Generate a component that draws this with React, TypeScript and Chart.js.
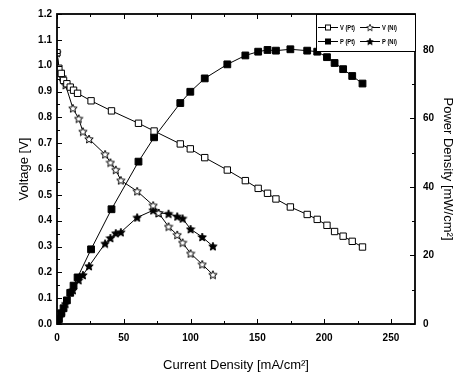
import { useEffect, useRef } from 'react';
import { Chart, registerables } from 'chart.js';

Chart.register(...registerables);

// Current density [mA/cm2] sample points
const xPt = [0, 1.4, 3.2, 4.9, 7.4, 9.9, 12.4, 15.4, 25.5, 40.8, 61, 72.7, 92.3, 99.8, 110.6, 127.5, 141, 150.6, 157.6, 163.9, 174.7, 187.3, 194.8, 202.1, 207.8, 214.2, 221, 228.7];
const vPt = [1.05, 0.99, 0.97, 0.943, 0.93, 0.917, 0.905, 0.893, 0.864, 0.825, 0.777, 0.747, 0.697, 0.678, 0.644, 0.596, 0.555, 0.525, 0.506, 0.484, 0.453, 0.424, 0.405, 0.382, 0.358, 0.34, 0.32, 0.298];
const pPt = [0, 1.4, 3.1, 4.6, 6.9, 9.1, 11.2, 13.6, 21.8, 33.5, 47.4, 54.5, 64.5, 67.8, 71.7, 75.8, 78.4, 79.5, 80.0, 79.8, 80.2, 79.8, 79.5, 77.9, 76.2, 74.4, 72.4, 70.2];

const xNi = [0, 1.9, 3.9, 6.4, 11.9, 16.2, 19.4, 24, 36, 40, 44, 47.8, 60, 72, 76, 83.5, 90, 94, 100, 108.7, 116.7];
const vNi = [1.05, 0.977, 0.956, 0.925, 0.835, 0.795, 0.745, 0.716, 0.657, 0.625, 0.597, 0.556, 0.514, 0.459, 0.43, 0.377, 0.345, 0.315, 0.273, 0.231, 0.191];
const pNi = [0, 1.9, 3.7, 5.9, 9.9, 12.8, 14.3, 16.9, 23.5, 25.1, 26.5, 26.8, 31.1, 33.2, 32.4, 32.2, 31.4, 30.8, 27.7, 25.4, 22.7];

const currentTicks = [0, 50, 100, 150, 200, 250];
const currentMinor = [25, 75, 125, 175, 225];
const voltageTicks = [0, 0.1, 0.2, 0.3, 0.4, 0.5, 0.6, 0.7, 0.8, 0.9, 1.0, 1.1, 1.2];
const voltageMinor = [0.05, 0.15, 0.25, 0.35, 0.45, 0.55, 0.65, 0.75, 0.85, 0.95, 1.05, 1.15];
const powerTicks = [0, 20, 40, 60, 80];
const powerMinor = [10, 30, 50, 70, 90];

const legendLabels = ['V (Pt)', 'V (Ni)', 'P (Pt)', 'P (Ni)'];

function makeStar(filled: boolean, size = 10) {
  const c = document.createElement('canvas');
  c.width = size;
  c.height = size;
  const ctx = c.getContext('2d')!;
  const cx = size / 2, cy = size / 2 + 0.4;
  const R = size / 2 - 0.6, r = R * 0.45;
  ctx.beginPath();
  for (let i = 0; i < 10; i++) {
    const a = -Math.PI / 2 + (i * Math.PI) / 5;
    const rad = i % 2 === 0 ? R : r;
    ctx.lineTo(cx + rad * Math.cos(a), cy + rad * Math.sin(a));
  }
  ctx.closePath();
  ctx.fillStyle = filled ? '#000' : '#fff';
  ctx.fill();
  ctx.lineWidth = 1;
  ctx.strokeStyle = '#000';
  ctx.stroke();
  return c;
}

const toPts = (xs: number[], ys: number[]) => xs.map((x, i) => ({ x, y: ys[i] }));

export default function App() {
  const ref = useRef<HTMLCanvasElement | null>(null);

  useEffect(() => {
    const canvas = ref.current!;
    const openStar = makeStar(false, 10);
    const fillStar = makeStar(true, 10);

    const framePlugin = {
      id: 'frameTicks',
      afterDatasetsDraw(chart: any) {
        const { ctx, chartArea: a, scales } = chart;
        ctx.save();
        ctx.strokeStyle = '#000';
        ctx.lineWidth = 1;
        const major = 5, minor = 3;
        ctx.beginPath();
        const xs = scales.x;
        currentTicks.forEach((v) => {
          const p = Math.round(xs.getPixelForValue(v)) + 0.5;
          ctx.moveTo(p, a.bottom); ctx.lineTo(p, a.bottom - major);
          ctx.moveTo(p, a.top); ctx.lineTo(p, a.top + major);
        });
        currentMinor.forEach((v) => {
          const p = Math.round(xs.getPixelForValue(v)) + 0.5;
          ctx.moveTo(p, a.bottom); ctx.lineTo(p, a.bottom - minor);
          ctx.moveTo(p, a.top); ctx.lineTo(p, a.top + minor);
        });
        const ys = scales.y;
        voltageTicks.forEach((v) => {
          const p = Math.round(ys.getPixelForValue(v)) + 0.5;
          ctx.moveTo(a.left, p); ctx.lineTo(a.left + major, p);
        });
        voltageMinor.forEach((v) => {
          const p = Math.round(ys.getPixelForValue(v)) + 0.5;
          ctx.moveTo(a.left, p); ctx.lineTo(a.left + minor, p);
        });
        const y1 = scales.y1;
        powerTicks.forEach((v) => {
          const p = Math.round(y1.getPixelForValue(v)) + 0.5;
          ctx.moveTo(a.right, p); ctx.lineTo(a.right - major, p);
        });
        powerMinor.forEach((v) => {
          const p = Math.round(y1.getPixelForValue(v)) + 0.5;
          ctx.moveTo(a.right, p); ctx.lineTo(a.right - minor, p);
        });
        ctx.stroke();
        ctx.lineWidth = 1.8;
        ctx.strokeRect(a.left, a.top, a.right - a.left, a.bottom - a.top);
        ctx.restore();
      },
      afterDraw(chart: any) {
        const { ctx, chartArea: a } = chart;
        ctx.save();
        const bx = 316, by = a.top, bw = a.right - 316, bh = 37;
        ctx.fillStyle = '#fff';
        ctx.fillRect(bx, by, bw, bh);
        ctx.strokeStyle = '#000';
        ctx.lineWidth = 1;
        ctx.strokeRect(bx + 0.5, by + 0.5, bw, bh);
        const rows = [by + 13, by + 27];
        const cols = [318, 360];
        ctx.font = 'bold 8px "Liberation Sans", Arial, sans-serif';
        ctx.textBaseline = 'middle';
        ctx.textAlign = 'left';
        chart.data.datasets.forEach((ds: any, i: number) => {
          const col = cols[[0, 1, 0, 1][i]];
          const row = rows[[0, 0, 1, 1][i]];
          ctx.strokeStyle = '#000';
          ctx.lineWidth = 1;
          ctx.beginPath();
          ctx.moveTo(col, row + 0.5);
          ctx.lineTo(col + 20, row + 0.5);
          ctx.stroke();
          const cx = col + 10;
          if (ds.pointStyle === 'rect') {
            const s = 5;
            ctx.fillStyle = ds.pointBackgroundColor;
            ctx.fillRect(cx - s / 2, row + 0.5 - s / 2, s, s);
            ctx.strokeRect(cx - s / 2, row + 0.5 - s / 2, s, s);
          } else {
            ctx.drawImage(ds.pointStyle, cx - 4, row - 3.5, 8, 8);
          }
          ctx.fillStyle = '#000';
          ctx.save();
          ctx.translate(col + 22, row + 1);
          ctx.scale(0.72, 1);
          ctx.fillText(legendLabels[i], 0, 0);
          ctx.restore();
        });
        ctx.restore();
      },
    };

    const tickFont = { family: '"Liberation Sans", Arial, sans-serif', size: 10, weight: 'bold' as const };
    const titleFont = { family: '"Liberation Sans", Arial, sans-serif', size: 13 };

    const chart = new Chart(canvas, {
      type: 'scatter',
      data: {
        datasets: [
          {
            label: legendLabels[0],
            data: toPts(xPt, vPt),
            yAxisID: 'y',
            showLine: true,
            borderColor: '#000',
            borderWidth: 1,
            pointStyle: 'rect',
            pointRadius: 4.5,
            pointBackgroundColor: '#fff',
            pointBorderColor: '#000',
            pointBorderWidth: 1,
          },
          {
            label: legendLabels[1],
            data: toPts(xNi, vNi),
            yAxisID: 'y',
            showLine: true,
            borderColor: '#000',
            borderWidth: 1,
            pointStyle: openStar as any,
            pointBackgroundColor: '#fff',
            pointBorderColor: '#000',
          },
          {
            label: legendLabels[2],
            data: toPts(xPt, pPt),
            yAxisID: 'y1',
            showLine: true,
            borderColor: '#000',
            borderWidth: 1,
            pointStyle: 'rect',
            pointRadius: 4.8,
            pointBackgroundColor: '#000',
            pointBorderColor: '#000',
            pointBorderWidth: 1,
          },
          {
            label: legendLabels[3],
            data: toPts(xNi, pNi),
            yAxisID: 'y1',
            showLine: true,
            borderColor: '#000',
            borderWidth: 1,
            pointStyle: fillStar as any,
            pointBackgroundColor: '#000',
            pointBorderColor: '#000',
          },
        ],
      },
      options: {
        responsive: false,
        animation: false,
        layout: { padding: { top: 6, left: 0, right: 0, bottom: 0 } },
        plugins: { legend: { display: false }, tooltip: { enabled: false } },
        scales: {
          x: {
            type: 'linear',
            position: 'bottom',
            min: 0,
            max: 268,
            afterBuildTicks: (s: any) => { s.ticks = currentTicks.map((v) => ({ value: v })); },
            afterFit: (s: any) => { s.height = 56; },
            grid: { display: false, drawTicks: false },
            border: { display: false },
            ticks: { color: '#000', font: tickFont, padding: 8, maxRotation: 0 },
            title: { display: true, text: 'Current Density [mA/cm²]', color: '#000', font: titleFont, padding: { top: 0, bottom: 7 } },
          },
          y: {
            type: 'linear',
            position: 'left',
            min: 0,
            max: 1.2,
            afterBuildTicks: (s: any) => { s.ticks = voltageTicks.map((v) => ({ value: v })); },
            afterFit: (s: any) => { s.width = 57; },
            grid: { display: false, drawTicks: false },
            border: { display: false },
            ticks: { color: '#000', font: tickFont, padding: 5, callback: (v: any) => Number(v).toFixed(1) },
            title: { display: true, text: 'Voltage [V]', color: '#000', font: titleFont, padding: { top: 17, bottom: 0 } },
          },
          y1: {
            type: 'linear',
            position: 'right',
            min: 0,
            max: 90.5,
            afterBuildTicks: (s: any) => { s.ticks = powerTicks.map((v) => ({ value: v })); },
            afterFit: (s: any) => { s.width = 46; },
            grid: { display: false, drawTicks: false },
            border: { display: false },
            ticks: { color: '#000', font: tickFont, padding: 8 },
            title: { display: true, text: 'Power Density [mW/cm²]', color: '#000', font: titleFont, padding: { top: 6, bottom: 0 } },
          },
        },
      },
      plugins: [framePlugin],
    });
    return () => chart.destroy();
  }, []);

  return (
    <div style={{ position: 'fixed', left: 0, top: 0, width: 461, height: 380, background: '#fff' }}>
      <canvas ref={ref} width={461} height={380} style={{ display: 'block', width: 461, height: 380 }} />
    </div>
  );
}
